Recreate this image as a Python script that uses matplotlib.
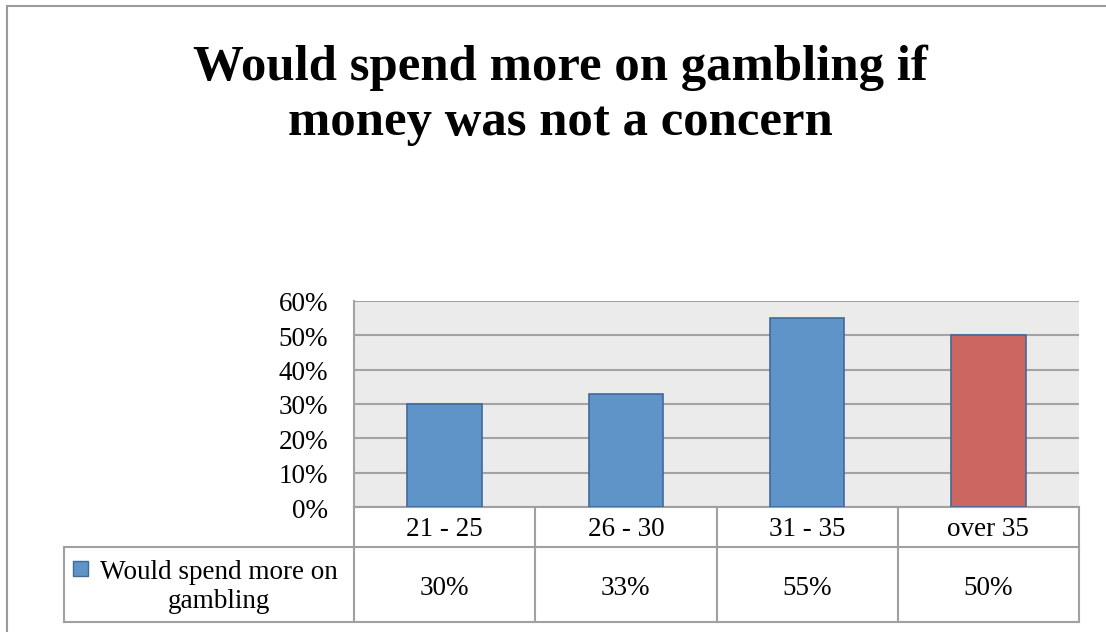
import matplotlib
matplotlib.use('Agg')
import matplotlib.pyplot as plt
from matplotlib.patches import Rectangle
from matplotlib.lines import Line2D
import matplotlib.transforms as mtransforms

# Data
categories = ['21 - 25', '26 - 30', '31 - 35', 'over 35']
values = [0.30, 0.33, 0.55, 0.50]
value_labels = ['30%', '33%', '55%', '50%']
series_name = 'Would spend more on\ngambling'
title_lines = ['Would spend more on gambling if', 'money was not a concern']
yticks = [0.0, 0.1, 0.2, 0.3, 0.4, 0.5, 0.6]

blue = '#5f94c8'
red = '#cc6660'
edge = '#41699a'
grid_c = '#a3a3a3'
W, H = 1106, 632
fs = 19.5

plt.rcParams['font.family'] = ['Liberation Serif', 'DejaVu Serif']

fig = plt.figure(figsize=(W / 100, H / 100), dpi=100)

# chart border (only top/left visible in the reference)
fig.patches.append(Rectangle((7 / W, -0.1), 1.2, (H - 6) / H + 0.1, transform=fig.transFigure,
                             fill=False, edgecolor='#9a9a9a', linewidth=1.5))

# title, two lines placed on their baselines
for line, base in zip(title_lines, [80, 135]):
    fig.text(560 / W, 1 - base / H, line, ha='center', va='baseline',
             fontsize=36.5, fontweight='bold')

# plot area: x 354..1079, y 301..507 (pixels)
ax = fig.add_axes([354 / W, 1 - 507 / H, 725 / W, 206 / H])
ax.set_facecolor('#ebebeb')
x = list(range(len(categories)))
colors = [blue, blue, blue, red]
ax.bar(x, values, width=0.41, color=colors, edgecolor=edge, linewidth=1.2, zorder=3)
ax.set_xlim(-0.5, len(categories) - 0.5)
ax.set_ylim(0, 0.6)
ax.set_yticks(yticks)
ax.tick_params(axis='y', length=0, labelleft=False)
ax.tick_params(axis='x', length=0, labelbottom=False)
ax.yaxis.grid(True, color=grid_c, linewidth=1.5, zorder=1)
for s in ['top', 'right', 'bottom']:
    ax.spines[s].set_visible(False)
ax.spines['left'].set_color(grid_c)
ax.spines['left'].set_linewidth(1.5)

# y labels sit a little below their gridlines, like the original
ytrans = mtransforms.blended_transform_factory(ax.transAxes, ax.transData)
shift = mtransforms.ScaledTranslation(0, -4 / 100, fig.dpi_scale_trans)
for t in yticks:
    ax.text(-26 / 725, t, f'{int(round(t * 100))}%', transform=ytrans + shift,
            ha='right', va='center', fontsize=fs)

# data table below the axes
trans = mtransforms.blended_transform_factory(ax.transData, ax.transAxes)
px = 206.0  # axes height in pixels
r1 = -40 / px   # bottom of category row
r2 = -115 / px  # bottom of value row
leg_left = -0.5 - (354 - 64) / 181.25
lc = '#a0a0a0'
lw = 1.5


def hline(x0, x1, y):
    ax.add_line(Line2D([x0, x1], [y, y], transform=trans, color=lc, lw=lw, clip_on=False))


def vline(xx, y0, y1):
    ax.add_line(Line2D([xx, xx], [y0, y1], transform=trans, color=lc, lw=lw, clip_on=False))


hline(-0.5, 3.5, 0)
hline(leg_left, 3.5, r1)
hline(leg_left, 3.5, r2)
for b in [-0.5, 0.5, 1.5, 2.5, 3.5]:
    vline(b, 0, r2)
vline(leg_left, r1, r2)

for i, (c, v) in enumerate(zip(categories, value_labels)):
    ax.text(i, r1 / 2 - 0.01, c, transform=trans, ha='center', va='center', fontsize=fs)
    ax.text(i, (r1 + r2) / 2 - 0.02, v, transform=trans, ha='center', va='center', fontsize=fs)

# legend key + series name in the first column
fig.text(219 / W, 1 - 587 / H, series_name, ha='center', va='center', fontsize=fs,
         multialignment='center', linespacing=1.25)
fig.patches.append(Rectangle((73 / W, 1 - 576 / H), 15 / W, 15 / H, transform=fig.transFigure,
                             facecolor=blue, edgecolor=edge, linewidth=1))

fig.savefig('out.png', dpi=100)
